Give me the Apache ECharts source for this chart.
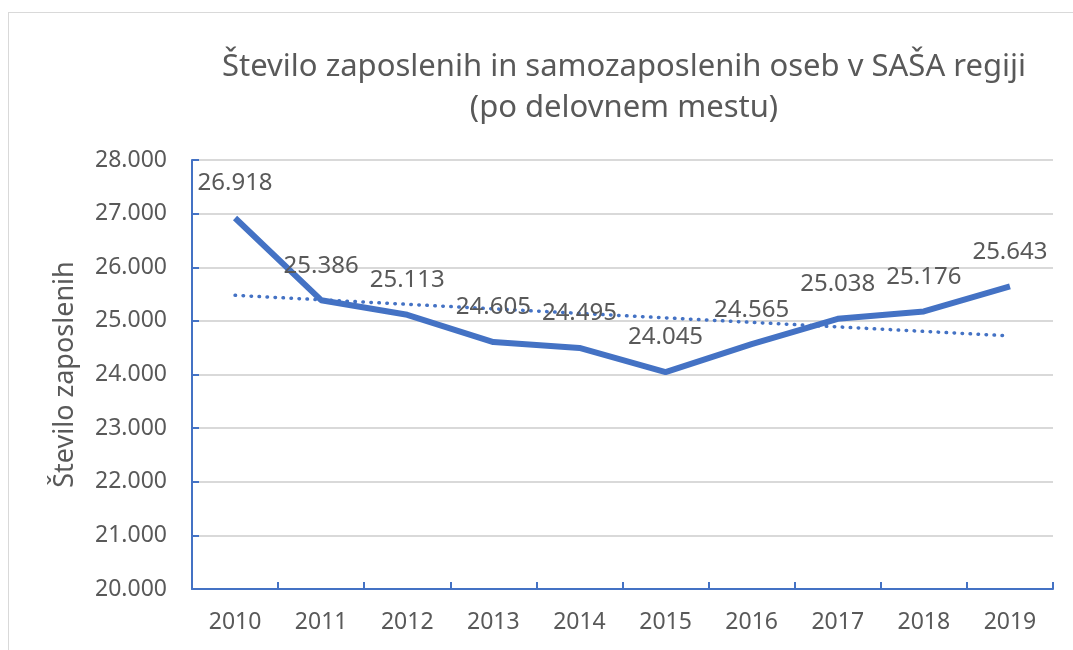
<!DOCTYPE html>
<html>
<head>
<meta charset="utf-8">
<script src="https://cdn.jsdelivr.net/npm/echarts@6/dist/echarts.min.js"></script>
<style>
  html, body { margin: 0; padding: 0; background: #fff; }
  #frame { position: absolute; left: 8px; top: 12px; width: 1100px; height: 700px;
           border-top: 1px solid #d9d9d9; border-left: 1px solid #d9d9d9; }
  #chart { position: absolute; left: 0; top: 0; width: 1073px; height: 650px; }
</style>
</head>
<body>
<div id="frame"></div>
<div id="chart"></div>
<script>
const years = ['2010', '2011', '2012', '2013', '2014', '2015', '2016', '2017', '2018', '2019'];
const employed = [26918, 25386, 25113, 24605, 24495, 24045, 24565, 25038, 25176, 25643];
// linear trend line, endpoints
const trendYears = ['2010', '2019'];
const trendValues = [25477, 24720];

const blue = '#4472C4';
const grey = '#595959';
const font = '"Noto Sans", "Open Sans", sans-serif';

function fmt(v) {
  return String(Math.round(v)).replace(/\B(?=(\d{3})+(?!\d))/g, '.');
}

const chart = echarts.init(document.getElementById('chart'), null, { renderer: 'canvas' });

chart.setOption({
  backgroundColor: 'transparent',
  animation: false,
  title: {
    text: 'Število zaposlenih in samozaposlenih oseb v SAŠA regiji\n(po delovnem mestu)',
    left: 619,
    textAlign: 'center',
    top: 42,
    textStyle: { color: grey, fontFamily: font, fontSize: 31, fontWeight: 'normal', lineHeight: 41 }
  },
  grid: { left: 192, right: 20, top: 160, bottom: 61 },
  xAxis: {
    type: 'category',
    data: years,
    boundaryGap: true,
    axisLine: { lineStyle: { color: blue, width: 2 } },
    axisTick: { show: true, inside: true, length: 7, lineStyle: { color: blue, width: 2 } },
    axisLabel: { color: grey, fontFamily: font, fontSize: 23, margin: 22 },
    splitLine: { show: false }
  },
  yAxis: {
    type: 'value',
    min: 20000,
    max: 28000,
    interval: 1000,
    name: 'Število zaposlenih',
    nameLocation: 'middle',
    nameGap: 113,
    nameRotate: 90,
    nameTextStyle: { color: grey, fontFamily: font, fontSize: 27 },
    axisLine: { show: true, lineStyle: { color: blue, width: 2 } },
    axisTick: { show: true, inside: true, length: 7, lineStyle: { color: blue, width: 2 } },
    axisLabel: { color: grey, fontFamily: font, fontSize: 23, margin: 25, formatter: fmt },
    splitLine: { lineStyle: { color: '#d9d9d9', width: 2 } }
  },
  series: [
    {
      name: 'Število zaposlenih',
      type: 'line',
      data: employed,
      symbol: 'circle',
      symbolSize: 1,
      showSymbol: true,
      itemStyle: { color: 'rgba(0,0,0,0)' },
      lineStyle: { color: blue, width: 6 },
      label: {
        show: true,
        position: 'top',
        distance: 22,
        color: grey,
        fontFamily: font,
        fontSize: 24,
        formatter: p => fmt(p.value)
      },
      labelLayout: { hideOverlap: false },
      z: 3
    },
    {
      name: 'Trend',
      type: 'line',
      data: trendYears.map((y, i) => [y, trendValues[i]]),
      symbol: 'none',
      lineStyle: { color: blue, width: 3.5, type: [0.5, 7.5], cap: 'round' },
      z: 2
    }
  ]
});
</script>
</body>
</html>
